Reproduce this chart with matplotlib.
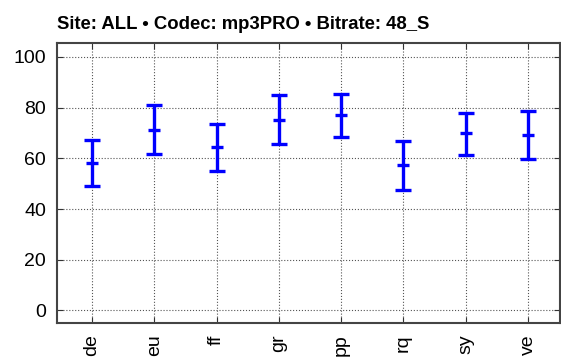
import numpy as np
import matplotlib.pyplot as plt

plt.rcParams['font.family'] = ['Liberation Sans', 'DejaVu Sans']

sites = ['de', 'eu', 'ff', 'gr', 'pp', 'rq', 'sy', 've']
means = [58.3, 71.3, 64.3, 75.2, 77.2, 57.2, 69.8, 69.2]
upper = [67.3, 80.9, 73.7, 84.9, 85.5, 66.9, 77.9, 78.8]
lower = [49.2, 61.8, 55.0, 65.7, 68.5, 47.5, 61.5, 59.8]

x = np.arange(1, len(sites) + 1)
m = np.array(means)
err = [m - np.array(lower), np.array(upper) - m]

fig = plt.figure(figsize=(5.61, 3.63), dpi=100)
ax = fig.add_axes([0.1016, 0.110, 0.8964, 0.7715])

ax.errorbar(x, m, yerr=err, fmt='_', color='#0000ff', ecolor='#0000ff',
            elinewidth=2.4, capsize=6, capthick=2.4, markersize=8,
            markeredgewidth=2.4, zorder=3)

ax.set_xlim(0.44, 8.51)
ax.set_ylim(-5, 105.5)
ax.set_yticks([0, 20, 40, 60, 80, 100])
ax.set_xticks(x)
ax.set_xticklabels(sites, rotation=90, fontsize=14)
ax.tick_params(axis='y', labelsize=14, pad=8)
ax.tick_params(axis='x', pad=8)
ax.tick_params(direction='in', top=True, right=True, length=4, color='#333333')
ax.grid(True, linestyle=':', color='#555555', linewidth=0.8)
for s in ax.spines.values():
    s.set_linewidth(1.5)
    s.set_color('#444444')

ax.set_title('Site: ALL \u2022 Codec: mp3PRO \u2022 Bitrate: 48_S', loc='left',
             fontsize=13.3, fontweight='bold', pad=10)

fig.savefig('out.png', dpi=100)
